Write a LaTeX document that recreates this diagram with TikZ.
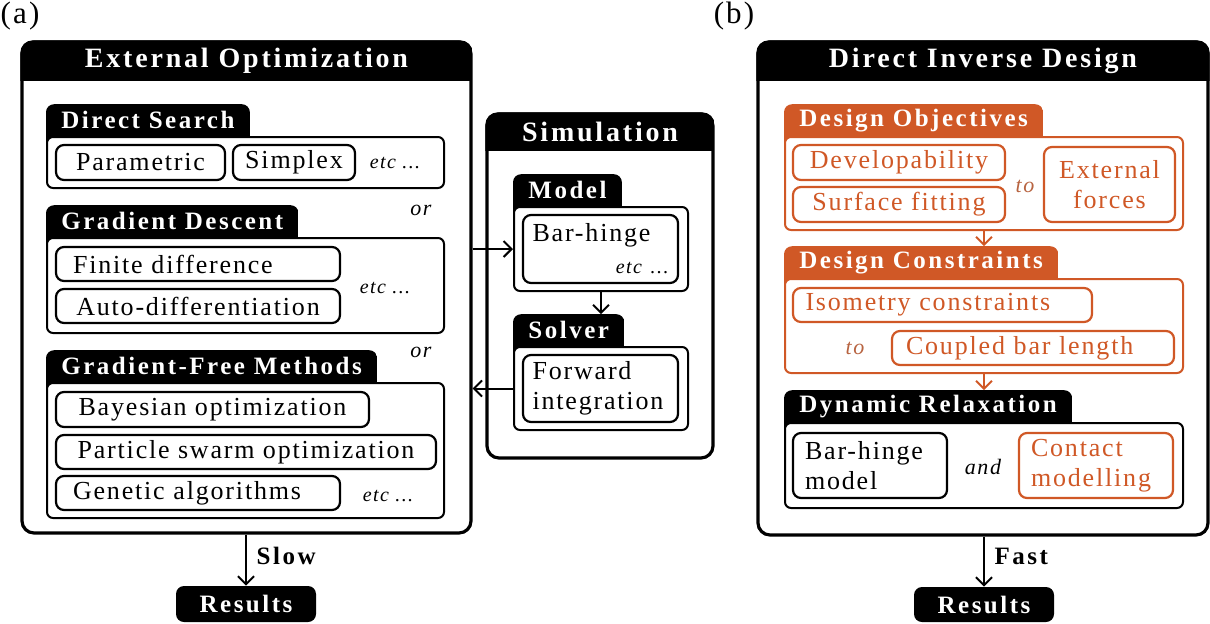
\documentclass[tikz,border=0pt]{standalone}
\usepackage{fontspec}
\setmainfont{Liberation Serif}
\newfontfamily\headfont[LetterSpace=10]{Liberation Serif}
\newfontfamily\bodyfont[LetterSpace=7]{Liberation Serif}
\usetikzlibrary{arrows.meta,fit,backgrounds}
\definecolor{dorange}{RGB}{208,88,38}

\begin{document}
\begin{tikzpicture}[
  x=0.5pt, y=-0.5pt,
  outerbox/.style={draw, line width=1.6pt, rounded corners=6pt, inner sep=0pt},
  panelbox/.style={draw, fill=white, line width=1pt, rounded corners=3pt, inner sep=0pt},
  itembox/.style={draw, line width=1.1pt, rounded corners=4pt, inner sep=0pt,
    font=\bodyfont\fontsize{13}{15}\selectfont},
  orangeitem/.style={draw=dorange, text=dorange},
  titletext/.style={anchor=north, text=white, inner sep=0pt, minimum height=20pt,
    font=\headfont\bfseries\fontsize{14}{16}\selectfont},
  tabtext/.style={anchor=south west, text=white, inner xsep=7.5pt, inner ysep=0pt,
    minimum height=15.5pt, font=\headfont\bfseries\fontsize{12.5}{15}\selectfont},
  resultbox/.style={fill=black, rounded corners=4pt, inner sep=0pt, text=white,
    minimum width=70pt, minimum height=18pt,
    font=\headfont\bfseries\fontsize{12.5}{15}\selectfont},
  speedtext/.style={right, xshift=1.5pt, font=\headfont\bfseries\fontsize{12.5}{15}\selectfont},
  etctext/.style={font=\bodyfont\itshape\fontsize{10}{12}\selectfont},
  conjtext/.style={font=\bodyfont\itshape\fontsize{11}{13}\selectfont},
  flow/.style={line width=1pt, -{Straight Barb[length=4pt,width=8pt]}}
]
\useasboundingbox (0,0) rectangle (1210,623);

\node[font=\bodyfont\fontsize{15.5}{18}\selectfont] (labela) at (20,16) {(a)};
\node[font=\bodyfont\fontsize{15.5}{18}\selectfont] (labelb) at (734,16) {(b)};

% ---- (a) external optimization ----
\node[outerbox, fit={(22,42)(471,533)}] (extopt) {};
\node[titletext] (extopttitle) at (extopt.north) {External Optimization};

\node[panelbox, fit={(47,137)(444,188)}] (dspanel) {};
\node[tabtext] (dstab) at (dspanel.north west) {Direct Search};
\node[itembox, minimum width=84.5pt, minimum height=17.5pt] (param) at (140.5,162.5) {Parametric};
\node[itembox, minimum width=61pt, minimum height=17.5pt] (simplex) at (294,162.5) {Simplex};
\node[etctext] (dsetc) at (395,163) {etc ...};
\node[conjtext] (or1) at (421,210) {or};

\node[panelbox, fit={(47,238)(444,333)}] (gdpanel) {};
\node[tabtext] (gdtab) at (gdpanel.north west) {Gradient Descent};
\node[itembox, align=left, text width=125pt, minimum width=142pt, minimum height=17pt] (findiff) at (198,264) {Finite difference};
\node[itembox, minimum width=142pt, minimum height=17pt] (autodiff) at (198,306) {Auto-differentiation};
\node[etctext] (gdetc) at (385,288) {etc ...};
\node[conjtext] (or2) at (421,352) {or};

\node[panelbox, fit={(47,383)(444,518)}] (gfpanel) {};
\node[tabtext] (gftab) at (gfpanel.north west) {Gradient-Free Methods};
\node[itembox, minimum width=156.5pt, minimum height=17.5pt] (bayes) at (212.5,409.5) {Bayesian optimization};
\node[itembox, minimum width=190pt, minimum height=17pt] (swarm) at (246,452) {Particle swarm optimization};
\node[itembox, align=left, text width=125pt, minimum width=142pt, minimum height=17pt] (genetic) at (198,493) {Genetic algorithms};
\node[etctext] (gfetc) at (388,496) {etc ...};

\node[resultbox] (resulta) at (246,604) {Results};
\draw[flow] (resulta.north |- extopt.south) -- node[speedtext, pos=0.42] (slow) {Slow} (resulta.north);

% ---- simulation ----
\node[outerbox, fit={(487,114)(713,458)}] (simbox) {};
\node[titletext, minimum height=19pt] (simtitle) at (simbox.north) {Simulation};

\node[panelbox, fit={(514,207)(688,291)}] (modelpanel) {};
\node[tabtext] (modeltab) at (modelpanel.north west) {Model};
\node[itembox, align=left, text width=68pt, minimum width=77.5pt, minimum height=34pt] (barhinge) at (600.5,249)
  {Bar-hinge\\[1pt]\hspace*{\fill}{\itshape\fontsize{10}{12}\selectfont etc ...}};

\node[panelbox, fit={(514,347)(688,430)}] (solverpanel) {};
\node[tabtext] (solvertab) at (solverpanel.north west) {Solver};
\node[itembox, align=left, text width=68pt, minimum width=77.5pt, minimum height=33.5pt] (forward) at (600.5,388.5) {Forward\\integration};

\draw[flow] (extopt.east |- modelpanel.west) -- (modelpanel.west);
\draw[flow] (modelpanel.south) -- (solvertab.north -| modelpanel.south);
\draw[flow] (solverpanel.west) -- (solverpanel.west -| extopt.east);

% ---- (b) direct inverse design ----
\node[outerbox, fit={(758,42)(1208,535)}] (inverse) {};
\node[titletext] (inversetitle) at (inverse.north) {Direct Inverse Design};

\node[panelbox, draw=dorange, fit={(785,137)(1183,230)}] (dopanel) {};
\node[tabtext] (dotab) at (dopanel.north west) {Design Objectives};
\node[itembox, orangeitem, minimum width=106pt, minimum height=17.5pt] (develop) at (899,162.5) {Developability};
\node[itembox, orangeitem, minimum width=106pt, minimum height=17.5pt] (surface) at (899,204.5) {Surface fitting};
\node[conjtext, text=dorange!70!gray] (to1) at (1025,186) {to};
\node[itembox, orangeitem, align=center, minimum width=65.5pt, minimum height=37.5pt] (extforce) at (1109.5,184.5) {External\\forces};

\node[panelbox, draw=dorange, fit={(785,279)(1183,373)}] (dcpanel) {};
\node[tabtext] (dctab) at (dcpanel.north west) {Design Constraints};
\node[itembox, orangeitem, align=left, text width=137pt, minimum width=149.5pt, minimum height=17pt] (isometry) at (942.5,305) {Isometry constraints};
\node[conjtext, text=dorange!70!gray] (to2) at (855,348) {to};
\node[itembox, orangeitem, align=left, text width=127pt, minimum width=141pt, minimum height=17pt] (coupled) at (1033,348) {Coupled bar length};

\node[panelbox, fit={(785,423)(1183,508)}] (drpanel) {};
\node[tabtext] (drtab) at (drpanel.north west) {Dynamic Relaxation};
\node[itembox, align=left, text width=65pt, minimum width=77pt, minimum height=32.5pt] (bhmodel) at (870,465.5) {Bar-hinge\\model};
\node[conjtext] (and) at (983,467) {and};
\node[itembox, orangeitem, align=left, text width=65pt, minimum width=77pt, minimum height=32.5pt] (contact) at (1096,465.5) {Contact\\modelling};

\draw[flow, dorange] (dopanel.south) -- (dctab.north -| dopanel.south);
\draw[flow, dorange] (dcpanel.south) -- (drtab.north -| dcpanel.south);

\node[resultbox, minimum height=17.5pt] (resultb) at (984,604.5) {Results};
\draw[flow] (resultb.north |- inverse.south) -- node[speedtext, pos=0.4] (fast) {Fast} (resultb.north);

% ---- header bands and tabs ----
\begin{scope}[on background layer]
  \foreach \bx/\hd in {extopt/extopttitle, simbox/simtitle, inverse/inversetitle}
  {
    \begin{scope}
      \clip[rounded corners=6pt] (\bx.north west) rectangle (\bx.south east);
      \fill (\bx.north west) rectangle (\hd.south -| \bx.east);
    \end{scope}
  }
  \foreach \tb/\cl in {dstab/black, gdtab/black, gftab/black, modeltab/black,
    solvertab/black, dotab/dorange, dctab/dorange, drtab/black}
  {
    \begin{scope}
      \clip[rounded corners=4pt] (\tb.north west) rectangle ([yshift=-10pt]\tb.south east);
      \fill[\cl] (\tb.north west) rectangle ([yshift=-5pt]\tb.south east);
    \end{scope}
  }
\end{scope}
\end{tikzpicture}
\end{document}
